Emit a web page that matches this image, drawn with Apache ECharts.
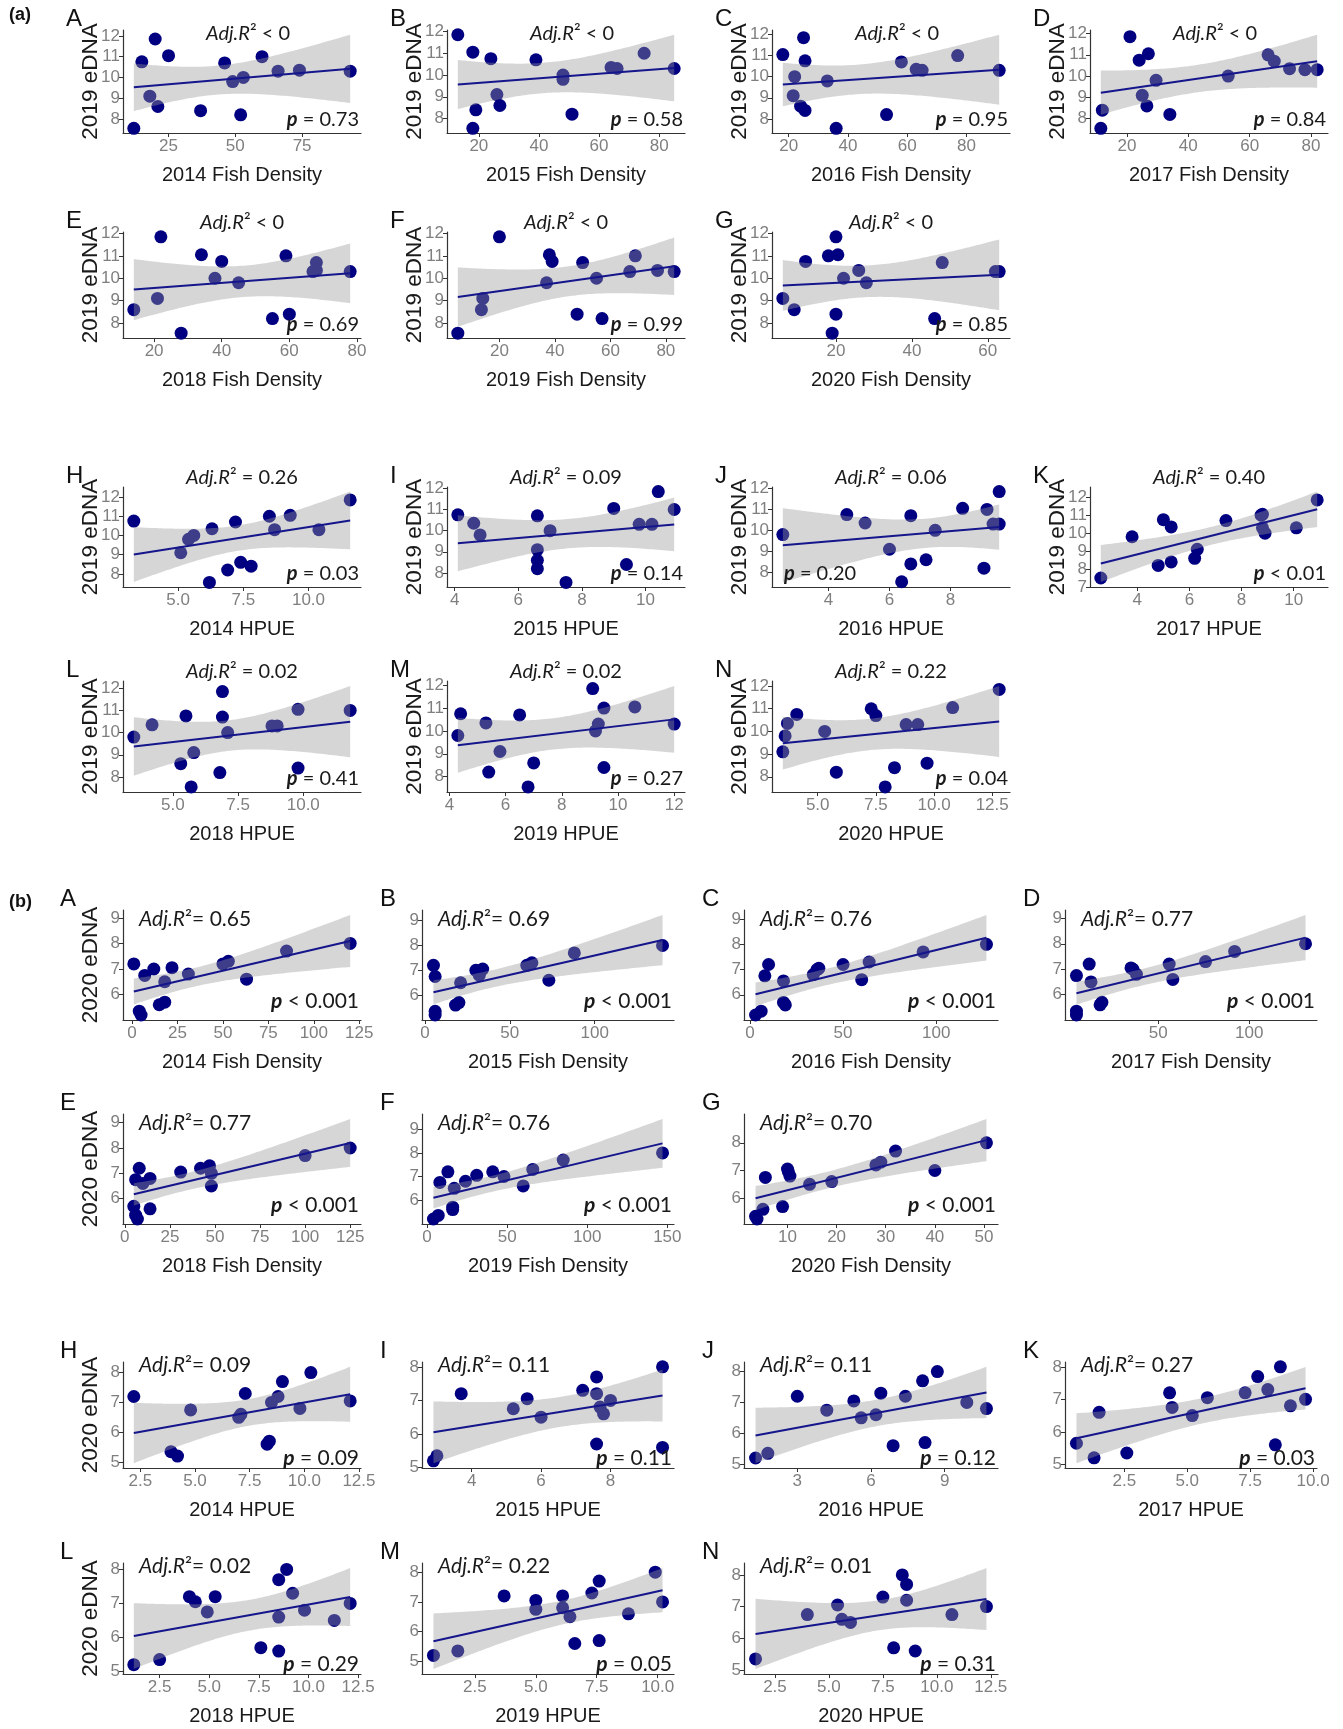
<!DOCTYPE html>
<html><head><meta charset="utf-8">
<script src="https://cdn.jsdelivr.net/npm/echarts@6/dist/echarts.min.js"></script>
<style>html,body{margin:0;padding:0;background:#fff}#c{width:1343px;height:1729px}</style>
</head><body><div id="c"></div>
<script>
// ================= DATA =================
// (a) 2019 eDNA (y) versus fish density / HPUE (x) : [x, y]
const a_A = [[12,7.55],[15,10.75],[18,9.1],[20,11.85],[21,8.6],[25,11.05],[37,8.4],[46,10.7],[49,9.8],[52,8.2],[53,10.0],[60,11.0],[66,10.3],[74,10.35],[93,10.3]];
const a_B = [[13,11.85],[18,11.05],[19,8.4],[18,7.55],[24,10.75],[26,9.1],[27,8.6],[39,10.7],[48,10.0],[48,9.8],[51,8.2],[64,10.35],[66,10.3],[75,11.0],[85,10.3]];
const a_C = [[18,11.05],[25,11.85],[22,10.0],[21.5,9.1],[24,8.6],[25.5,8.4],[25.5,10.75],[33,9.8],[36,7.55],[53,8.2],[58,10.7],[63,10.35],[65,10.3],[77,11.0],[91,10.3]];
const a_D = [[21,11.85],[11.5,7.55],[12,8.4],[24,10.75],[27,11.05],[25,9.1],[26.5,8.6],[29.5,9.8],[34,8.2],[53,10.0],[66,11.0],[68,10.7],[73,10.35],[78,10.3],[82,10.3]];
const a_E = [[14,8.6],[21,9.1],[22,11.85],[28,7.55],[34,11.05],[38,10.0],[40,10.75],[45,9.8],[55,8.2],[59,11.0],[60,8.4],[68,10.7],[68,10.35],[67,10.3],[78,10.3]];
const a_F = [[5,7.55],[14,9.1],[13.5,8.6],[20,11.85],[38,11.05],[39,10.75],[37,9.8],[50,10.7],[48,8.4],[55,10.0],[57,8.2],[67,10.3],[69,11.0],[77,10.35],[83,10.3]];
const a_G = [[6,9.1],[9,8.6],[12,10.75],[18,11.0],[19,7.55],[20,11.85],[20.5,11.05],[20,8.4],[22,10.0],[26,10.35],[28,9.8],[46,8.2],[48,10.7],[62,10.3],[63,10.3]];
const a_H = [[3.3,10.75],[5.1,9.1],[5.4,9.8],[5.6,10.0],[6.3,10.35],[6.2,7.55],[6.9,8.2],[7.2,10.7],[7.4,8.6],[7.8,8.4],[8.5,11.0],[8.7,10.3],[9.3,11.05],[10.4,10.3],[11.6,11.85]];
const a_I = [[4.1,10.75],[4.6,10.35],[4.8,9.8],[6.6,10.7],[6.6,9.1],[6.6,8.6],[6.6,8.2],[7.0,10.0],[7.5,7.55],[9.0,11.05],[9.4,8.4],[9.8,10.3],[10.2,10.3],[10.4,11.85],[10.9,11.0]];
const a_J = [[2.5,9.8],[4.6,10.75],[5.2,10.35],[6.0,9.1],[6.4,7.55],[6.7,10.7],[6.7,8.4],[7.2,8.6],[7.5,10.0],[8.4,11.05],[9.1,8.2],[9.2,11.0],[9.4,10.3],[9.6,10.3],[9.6,11.85]];
const a_K = [[2.6,7.5],[3.8,9.8],[4.8,8.2],[5.0,10.75],[5.3,10.35],[5.3,8.4],[6.2,8.6],[6.3,9.1],[7.4,10.7],[8.8,11.05],[8.75,11.0],[8.8,10.3],[8.9,10.0],[10.1,10.3],[10.9,11.85]];
const a_L = [[3.5,9.8],[4.2,10.35],[5.3,8.6],[5.5,10.75],[5.7,7.55],[5.8,9.1],[6.8,8.2],[6.9,10.7],[6.9,11.85],[7.1,10.0],[8.8,10.3],[9.0,10.3],[9.8,11.05],[9.8,8.4],[11.8,11.0]];
const a_M = [[4.3,9.8],[4.4,10.75],[5.3,10.35],[5.4,8.2],[5.8,9.1],[6.5,10.7],[6.8,7.55],[7.0,8.6],[9.1,11.85],[9.2,10.0],[9.3,10.3],[9.5,11.0],[9.5,8.4],[10.6,11.05],[12.0,10.3]];
const a_N = [[3.5,9.1],[3.6,9.8],[3.7,10.35],[4.1,10.75],[5.3,10.0],[5.8,8.2],[7.3,11.0],[7.5,10.7],[7.9,7.55],[8.3,8.4],[8.8,10.3],[9.3,10.3],[9.7,8.6],[10.8,11.05],[12.8,11.85]];

// (b) 2020 eDNA (y) versus fish density / HPUE (x) : [x, y]
const b_A = [[1,7.2],[4,5.35],[5,5.2],[7,6.75],[12,7.0],[15,5.6],[18,5.7],[18,6.5],[22,7.05],[31,6.8],[50,7.2],[53,7.3],[63,6.6],[85,7.7],[120,8.0]];
const b_B = [[5,7.2],[6,6.75],[6,5.35],[6,5.2],[18,5.6],[20,5.7],[21,6.5],[30,7.0],[32,6.8],[34,7.05],[60,7.2],[63,7.3],[73,6.6],[88,7.7],[140,8.0]];
const b_C = [[3,5.2],[6,5.35],[8,6.75],[10,7.2],[18,5.7],[19,5.6],[18,6.55],[34,6.8],[36,7.0],[37,7.05],[50,7.2],[60,6.6],[64,7.3],[93,7.7],[127,8.0]];
const b_D = [[5,5.2],[5,5.35],[5,6.75],[12,7.2],[13,6.5],[18,5.6],[19,5.7],[35,7.05],[36,7.0],[38,6.8],[56,7.2],[58,6.6],[76,7.3],[92,7.7],[131,8.0]];
const b_E = [[5,5.7],[6,5.35],[7,5.2],[6,6.75],[8,7.2],[10,6.6],[14,6.8],[14,5.6],[31,7.05],[42,7.2],[47,7.3],[48,7.0],[48,6.5],[100,7.7],[125,8.0]];
const b_F = [[4,5.2],[7,5.35],[8,6.75],[13,7.2],[16,5.6],[16,5.7],[17,6.5],[24,6.8],[31,7.05],[41,7.2],[48,7.0],[60,6.6],[66,7.3],[85,7.7],[147,8.0]];
const b_G = [[3.5,5.35],[3.8,5.25],[5,5.6],[5.5,6.75],[9,5.7],[10,7.05],[10.2,6.95],[10.5,6.8],[14.5,6.5],[19,6.6],[28,7.2],[29,7.3],[32,7.7],[40,7.0],[50.5,8.0]];
const b_H = [[2.2,7.2],[3.9,5.35],[4.2,5.2],[4.8,6.75],[7.0,6.5],[7.1,6.6],[7.3,7.3],[8.3,5.6],[8.4,5.7],[8.5,7.0],[8.8,7.2],[9.0,7.7],[9.8,6.8],[10.3,8.0],[12.1,7.05]];
const b_I = [[2.9,5.2],[3.0,5.35],[3.7,7.2],[5.2,6.75],[5.6,7.05],[6.0,6.5],[7.2,7.3],[7.6,7.7],[7.6,7.2],[7.6,5.7],[7.7,6.8],[7.8,6.6],[8.0,7.0],[9.5,8.0],[9.5,5.6]];
const b_J = [[1.3,5.2],[1.8,5.35],[3.0,7.2],[4.2,6.75],[5.3,7.05],[5.6,6.5],[6.2,6.6],[6.4,7.3],[6.9,5.6],[7.4,7.2],[8.1,7.7],[8.2,5.7],[8.7,8.0],[9.9,7.0],[10.7,6.8]];
const b_K = [[0.6,5.65],[1.3,5.2],[1.5,6.6],[2.6,5.35],[4.3,7.2],[4.4,6.75],[5.2,6.5],[5.8,7.05],[7.3,7.2],[7.8,7.7],[8.2,7.3],[8.5,5.6],[8.7,8.0],[9.1,6.8],[9.7,7.0]];
const b_L = [[1.2,5.2],[2.5,5.35],[4.0,7.2],[4.3,7.05],[4.9,6.75],[5.3,7.2],[7.6,5.7],[8.5,5.6],[8.5,7.7],[8.5,6.6],[8.9,8.0],[9.2,7.3],[9.8,6.8],[11.3,6.5],[12.1,7.0]];
const b_M = [[0.8,5.2],[1.8,5.35],[3.7,7.2],[5.0,7.05],[5.0,6.75],[6.1,7.2],[6.1,6.8],[6.4,6.5],[6.6,5.6],[7.3,7.3],[7.6,7.7],[7.6,5.7],[8.8,6.6],[9.9,8.0],[10.2,7.0]];
const b_N = [[1.6,5.35],[4.0,6.75],[5.4,7.05],[5.6,6.6],[6.0,6.5],[7.5,7.3],[8.0,5.7],[8.4,8.0],[8.6,7.7],[8.6,7.2],[9.0,5.6],[10.7,6.75],[12.3,7.0]];

// tick labels
const yTicks2019 = ['8','9','10','11','12'];
const yTicks2019K = ['7','8','9','10','11','12'];
const yTicks2020 = ['6','7','8','9'];
const yTicks2020G = ['6','7','8'];
const yTicks2020H = ['5','6','7','8'];
const xTicksA = [['25','50','75'],['20','40','60','80'],['20','40','60','80'],['20','40','60','80'],
  ['20','40','60','80'],['20','40','60','80'],['20','40','60'],
  ['5.0','7.5','10.0'],['4','6','8','10'],['4','6','8'],['4','6','8','10'],
  ['5.0','7.5','10.0'],['4','6','8','10','12'],['5.0','7.5','10.0','12.5']];
const xTicksB = [['0','25','50','75','100','125'],['0','50','100'],['0','50','100'],['50','100'],
  ['0','25','50','75','100','125'],['0','50','100','150'],['10','20','30','40','50'],
  ['2.5','5.0','7.5','10.0','12.5'],['4','6','8'],['3','6','9'],['2.5','5.0','7.5','10.0'],
  ['2.5','5.0','7.5','10.0','12.5'],['2.5','5.0','7.5','10.0'],['2.5','5.0','7.5','10.0','12.5']];

// axis titles and statistics text
const xTitles = ['2014 Fish Density','2015 Fish Density','2016 Fish Density','2017 Fish Density',
  '2018 Fish Density','2019 Fish Density','2020 Fish Density',
  '2014 HPUE','2015 HPUE','2016 HPUE','2017 HPUE','2018 HPUE','2019 HPUE','2020 HPUE'];
const letters = ['A','B','C','D','E','F','G','H','I','J','K','L','M','N'];
const aAdjR = ['< 0','< 0','< 0','< 0','< 0','< 0','< 0','= 0.26','= 0.09','= 0.06','= 0.40','= 0.02','= 0.02','= 0.22'];
const aPval = ['= 0.73','= 0.58','= 0.95','= 0.84','= 0.69','= 0.99','= 0.85','= 0.03','= 0.14','= 0.20','< 0.01','= 0.41','= 0.27','= 0.04'];
const bAdjR = ['0.65','0.69','0.76','0.77','0.77','0.76','0.70','0.09','0.11','0.11','0.27','0.02','0.22','0.01'];
const bPval = ['< 0.001','< 0.001','< 0.001','< 0.001','< 0.001','< 0.001','< 0.001','= 0.09','= 0.11','= 0.12','= 0.03','= 0.29','= 0.05','= 0.31'];

const aData = [a_A,a_B,a_C,a_D,a_E,a_F,a_G,a_H,a_I,a_J,a_K,a_L,a_M,a_N];
const bData = [b_A,b_B,b_C,b_D,b_E,b_F,b_G,b_H,b_I,b_J,b_K,b_L,b_M,b_N];

// ================= LAYOUT =================
const layoutA = {cols:[123,447,772,1090], widths:[238,238,238,238], rows:[[30,133],[232,338],[487,587],[681,792]]};
const layoutB = {cols:[123,422,744,1065], widths:[238,252,254,252], rows:[[910,1020],[1114,1224],[1362,1468],[1563,1674]]};
function rc(k){ if(k<4) return [0,k]; if(k<7) return [1,k-4]; if(k<11) return [2,k-7]; return [3,k-11]; }

// ================= STATS (linear fit + 95% CI, as geom_smooth) =================
function tq(df){ const t={9:2.262,10:2.228,11:2.201,12:2.179,13:2.160,14:2.145,15:2.131,16:2.120}; return t[df]||2.1; }
function fit(d){
  const n=d.length; let sx=0,sy=0; d.forEach(p=>{sx+=p[0];sy+=p[1];});
  const mx=sx/n,my=sy/n; let sxx=0,sxy=0;
  d.forEach(p=>{sxx+=(p[0]-mx)*(p[0]-mx); sxy+=(p[0]-mx)*(p[1]-my);});
  const b=sxy/sxx,a=my-b*mx; let sse=0; d.forEach(p=>{const r=p[1]-a-b*p[0]; sse+=r*r;});
  const s=Math.sqrt(sse/(n-2)), t=tq(n-2);
  const xs=d.map(p=>p[0]); const x0=Math.min(...xs), x1=Math.max(...xs);
  const band=[];
  for(let k=0;k<80;k++){ const x=x0+(x1-x0)*k/79; const yh=a+b*x; const se=s*Math.sqrt(1/n+(x-mx)*(x-mx)/sxx); band.push([x,yh-t*se,yh+t*se]); }
  return {a,b,x0,x1,band};
}

// ================= BUILD =================
const AXF='Liberation Sans', TKF="'Liberation Sans Narrow','Liberation Sans',sans-serif", ANF='Lato';
const grid=[],xAxis=[],yAxis=[],series=[],graphic=[];
function richText(x,y,text,rich,align,va){
  return {type:'text', x:x, y:y, silent:true, z:100, style:{text:text, rich:rich, align:align, verticalAlign:va, fill:'#1a1a1a'}};
}
function tok(fs,opt){ return Object.assign({fontSize:fs,fontFamily:ANF,fill:'#1a1a1a',color:'#1a1a1a'},opt||{}); }

function addPanel(part,k){
  const idx=grid.length;
  const d = part==='a'?aData[k]:bData[k];
  const L = part==='a'?layoutA:layoutB;
  const [r,c]=rc(k);
  const left=L.cols[c], width=L.widths[c], top=L.rows[r][0], bottom=L.rows[r][1], height=bottom-top;
  const f=fit(d);
  const ys=d.map(p=>p[1]).concat(f.band.map(b=>b[1]),f.band.map(b=>b[2]));
  const ymn=Math.min(...ys), ymx=Math.max(...ys), yr=ymx-ymn, xr=f.x1-f.x0;
  const xmin=f.x0-0.05*xr, xmax=f.x1+0.05*xr, ymin=ymn-0.05*yr, ymax=ymx+0.05*yr;
  const xt=(part==='a'?xTicksA:xTicksB)[k];
  let yt;
  if(part==='a') yt = (k===10)?yTicks2019K:yTicks2019;
  else yt = k<7 ? (k===6?yTicks2020G:yTicks2020) : yTicks2020H;
  const xv=xt.map(Number).filter(v=>v>=xmin&&v<=xmax);
  const yv=yt.map(Number).filter(v=>v>=ymin-0.03&&v<=ymax);
  const fmt=(arr)=>function(v){ for(const s of arr){ if(Math.abs(Number(s)-v)<1e-6) return s; } return ''; };
  grid.push({left:left, top:top, width:width, height:height, containLabel:false, outerBoundsMode:'none'});
  const showY = part==='a' || c===0;
  xAxis.push({type:'value', gridIndex:idx, min:xmin, max:xmax,
    axisLine:{onZero:false, lineStyle:{color:'#333333', width:1.2}},
    axisTick:{show:true, length:4, customValues:xv, lineStyle:{color:'#333333'}},
    axisLabel:{customValues:xv, formatter:fmt(xt), color:'#7f7f7f', fontSize:17, fontFamily:TKF, margin:5},
    splitLine:{show:false},
    name:xTitles[k], nameLocation:'middle', nameGap:32, nameMoveOverlap:false,
    nameTextStyle:{fontSize:20, color:'#1a1a1a', fontFamily:AXF}});
  yAxis.push({type:'value', gridIndex:idx, min:Math.min(ymin, yv.length?yv[0]:ymin), max:ymax,
    axisLine:{show:true, onZero:false, lineStyle:{color:'#333333', width:1.2}},
    axisTick:{show:true, length:4, customValues:yv, lineStyle:{color:'#333333'}},
    axisLabel:{customValues:yv, formatter:fmt(yt), color:'#7f7f7f', fontSize:17, fontFamily:TKF, margin:3},
    splitLine:{show:false},
    name: showY ? (part==='a'?'2019 eDNA':'2020 eDNA') : '', nameLocation:'middle', nameRotate:90, nameGap:21, nameMoveOverlap:false,
    nameTextStyle:{fontSize:22.5, color:'#1a1a1a', fontFamily:AXF}});
  series.push({type:'scatter', xAxisIndex:idx, yAxisIndex:idx, data:d, symbolSize:13, silent:true, z:2,
    itemStyle:{color:'#000080', opacity:1}});
  const band=f.band;
  series.push({type:'custom', xAxisIndex:idx, yAxisIndex:idx, silent:true, z:3, data:[[band[0][0],band[0][1]]],
    renderItem:function(params,api){
      const pts=[];
      for(let j=0;j<band.length;j++) pts.push(api.coord([band[j][0],band[j][2]]));
      for(let j=band.length-1;j>=0;j--) pts.push(api.coord([band[j][0],band[j][1]]));
      return {type:'polygon', shape:{points:pts}, style:{fill:'rgba(153,153,153,0.4)', stroke:null}};
    }});
  series.push({type:'line', xAxisIndex:idx, yAxisIndex:idx, silent:true, z:4, symbol:'none',
    data:[[f.x0,f.a+f.b*f.x0],[f.x1,f.a+f.b*f.x1]], lineStyle:{color:'#15158c', width:2}});

  // panel letter
  const lx = part==='a' ? left-57 : (c===0 ? left-63 : left-42);
  graphic.push({type:'text', x:lx, y:top-23, silent:true, style:{text:letters[k], fontSize:24, fontFamily:AXF, fill:'#111', align:'left', verticalAlign:'top'}});

  if(part==='a'){
    const fs=20;
    const rich={i:tok(fs,{fontStyle:'italic'}), s:tok(fs), n:tok(fs), b:tok(fs,{fontStyle:'italic',fontWeight:'bold'})};
    const ry = r===0 ? top+4 : top-9;
    const rx = r===0 ? left+width/2+6 : left+width/2;
    graphic.push(richText(rx, ry, '{i|Adj.R}{s|²}{n| '+aAdjR[k]+'}', rich, 'center','middle'));
    if(k===9) graphic.push(richText(left+12, bottom-13, '{b|p}{n| '+aPval[k]+'}', rich, 'left','middle'));
    else graphic.push(richText(left+width-2, bottom-13, '{b|p}{n| '+aPval[k]+'}', rich, 'right','middle'));
  } else {
    const fs=21;
    const rich={i:tok(fs,{fontStyle:'italic'}), s:tok(fs), n:tok(fs), b:tok(fs,{fontStyle:'italic',fontWeight:'bold'})};
    const rdy=[9,9,3,3][r], pdy=[-19,-19,-10,-10][r];
    graphic.push(richText(left+16, top+rdy, '{i|Adj.R}{s|²}{n|= '+bAdjR[k]+'}', rich, 'left','middle'));
    graphic.push(richText(left+width-2, bottom+pdy, '{b|p}{n| '+bPval[k]+'}', rich, 'right','middle'));
  }
}
for(let k=0;k<14;k++) addPanel('a',k);
for(let k=0;k<14;k++) addPanel('b',k);
graphic.push({type:'text', x:9, y:6, silent:true, style:{text:'(a)', fontSize:18, fontWeight:'bold', fontFamily:AXF, fill:'#111', align:'left', verticalAlign:'top'}});
graphic.push({type:'text', x:9, y:893, silent:true, style:{text:'(b)', fontSize:18, fontWeight:'bold', fontFamily:AXF, fill:'#111', align:'left', verticalAlign:'top'}});

const chart=echarts.init(document.getElementById('c'),null,{renderer:'canvas'});
chart.setOption({animation:false, backgroundColor:'#ffffff', grid:grid, xAxis:xAxis, yAxis:yAxis, series:series, graphic:graphic});
</script>
</body></html>
